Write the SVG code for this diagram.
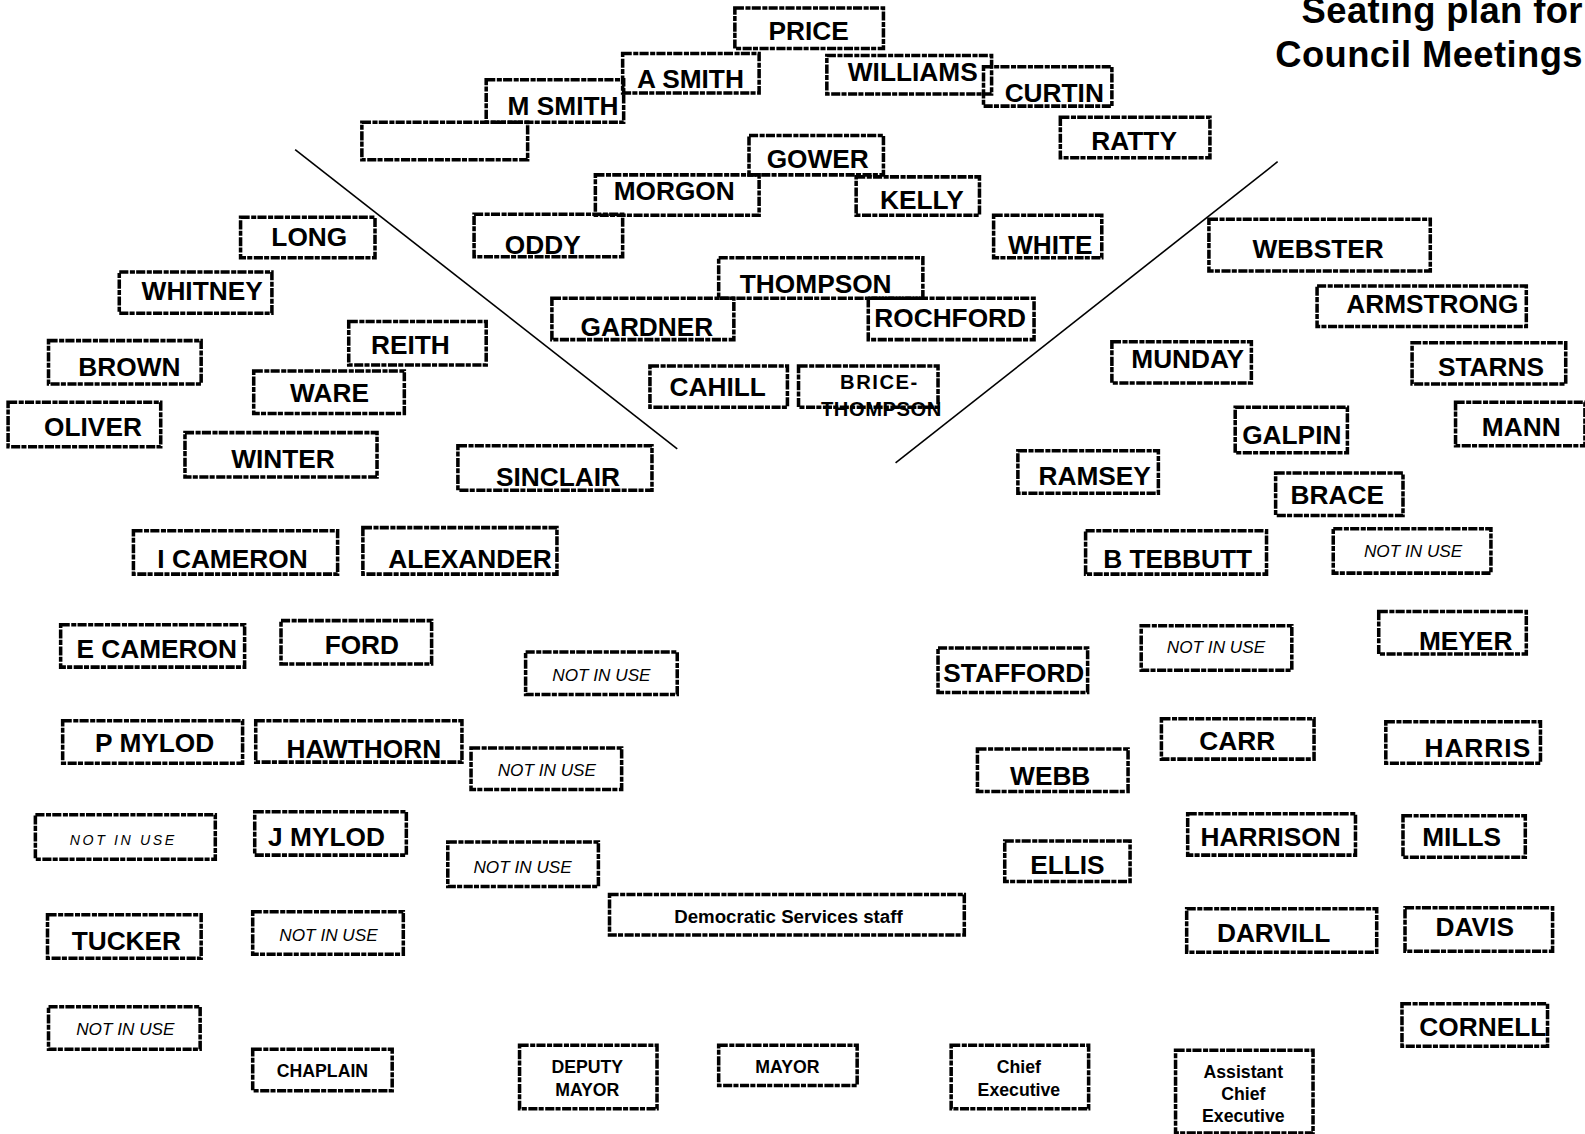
<svg xmlns="http://www.w3.org/2000/svg" width="1585" height="1134" viewBox="0 0 1585 1134">
<style>
.b{fill:none;stroke:#000;stroke-width:3.5;stroke-dasharray:9 1.5 5 1.2}
.n{font-family:"Liberation Sans",Arial,sans-serif;font-weight:bold;font-size:26px;text-anchor:middle;fill:#000}
.u{font-family:"Liberation Sans",Arial,sans-serif;font-style:italic;font-size:17px;text-anchor:middle;fill:#000}
.s{font-family:"Liberation Sans",Arial,sans-serif;font-weight:bold;font-size:17.5px;text-anchor:middle;fill:#000}
.t{font-family:"Liberation Sans",Arial,sans-serif;font-weight:bold;font-size:36px;letter-spacing:0.4px;text-anchor:end;fill:#000}
.l{stroke:#000;stroke-width:1.6;fill:none}
</style>
<rect width="1585" height="1134" fill="#fff"/>
<g transform="scale(1.0108)">
<g id="title"><text class="t" x="1566" y="23">Seating plan for</text><text class="t" x="1566" y="66">Council Meetings</text></g>
<g id="connectors"><line class="l" x1="292" y1="148" x2="670" y2="444"/><line class="l" x1="1264" y1="160" x2="886" y2="458"/></g>
<g id="price"><rect class="b" x="727" y="8" width="147" height="40"/><text class="n" x="800" y="40">PRICE</text></g>
<g id="asmith"><rect class="b" x="616" y="53" width="135" height="39"/><text class="n" x="683" y="87">A SMITH</text></g>
<g id="williams"><rect class="b" x="818" y="55" width="163" height="38"/><text class="n" x="903" y="80">WILLIAMS</text></g>
<g id="curtin"><rect class="b" x="973" y="66" width="127" height="39"/><text class="n" x="1043" y="101">CURTIN</text></g>
<g id="msmith"><rect class="b" x="481" y="79" width="136" height="42"/><text class="n" x="557" y="114">M SMITH</text></g>
<g id="blank"><rect class="b" x="358" y="121" width="164" height="37"/></g>
<g id="ratty"><rect class="b" x="1049" y="116" width="148" height="40"/><text class="n" x="1122" y="148">RATTY</text></g>
<g id="gower"><rect class="b" x="741" y="134" width="133" height="39"/><text class="n" x="809" y="166">GOWER</text></g>
<g id="morgon"><rect class="b" x="589" y="173" width="162" height="40"/><text class="n" x="667" y="198">MORGON</text></g>
<g id="kelly"><rect class="b" x="847" y="175" width="122" height="38"/><text class="n" x="912" y="207">KELLY</text></g>
<g id="oddy"><rect class="b" x="469" y="212" width="147" height="42"/><text class="n" x="537" y="251">ODDY</text></g>
<g id="white"><rect class="b" x="983" y="213" width="107" height="42"/><text class="n" x="1039" y="251">WHITE</text></g>
<g id="long"><rect class="b" x="238" y="215" width="133" height="40"/><text class="n" x="306" y="243">LONG</text></g>
<g id="whitney"><rect class="b" x="118" y="269" width="151" height="41"/><text class="n" x="200" y="297">WHITNEY</text></g>
<g id="thompson"><rect class="b" x="711" y="255" width="202" height="40"/><text class="n" x="807" y="290">THOMPSON</text></g>
<g id="webster"><rect class="b" x="1196" y="217" width="219" height="51"/><text class="n" x="1304" y="255">WEBSTER</text></g>
<g id="armstrong"><rect class="b" x="1303" y="283" width="207" height="40"/><text class="n" x="1417" y="310">ARMSTRONG</text></g>
<g id="gardner"><rect class="b" x="546" y="295" width="180" height="41"/><text class="n" x="640" y="332">GARDNER</text></g>
<g id="rochford"><rect class="b" x="859" y="295" width="164" height="41"/><text class="n" x="940" y="324">ROCHFORD</text></g>
<g id="reith"><rect class="b" x="345" y="318" width="136" height="43"/><text class="n" x="406" y="350">REITH</text></g>
<g id="brown"><rect class="b" x="48" y="337" width="151" height="43"/><text class="n" x="128" y="372">BROWN</text></g>
<g id="munday"><rect class="b" x="1100" y="338" width="138" height="41"/><text class="n" x="1175" y="364">MUNDAY</text></g>
<g id="starns"><rect class="b" x="1397" y="339" width="152" height="41"/><text class="n" x="1475" y="372">STARNS</text></g>
<g id="ware"><rect class="b" x="251" y="367" width="149" height="42"/><text class="n" x="326" y="398">WARE</text></g>
<g id="cahill"><rect class="b" x="643" y="362" width="136" height="41"/><text class="n" x="710" y="392">CAHILL</text></g>
<g id="brice"><rect class="b" x="790" y="362" width="138" height="41"/><text class="n" x="870" y="385" style="font-size:20px;letter-spacing:1.5px">BRICE-</text><text class="n" x="872" y="412" style="font-size:20px;letter-spacing:0.5px">THOMPSON</text></g>
<g id="oliver"><rect class="b" x="8" y="398" width="151" height="44"/><text class="n" x="92" y="431">OLIVER</text></g>
<g id="mann"><rect class="b" x="1440" y="398" width="128" height="43"/><text class="n" x="1505" y="431">MANN</text></g>
<g id="galpin"><rect class="b" x="1222" y="403" width="111" height="45"/><text class="n" x="1278" y="439">GALPIN</text></g>
<g id="winter"><rect class="b" x="183" y="428" width="190" height="44"/><text class="n" x="280" y="463">WINTER</text></g>
<g id="sinclair"><rect class="b" x="453" y="441" width="192" height="44"/><text class="n" x="552" y="481">SINCLAIR</text></g>
<g id="ramsey"><rect class="b" x="1007" y="446" width="139" height="42"/><text class="n" x="1083" y="480">RAMSEY</text></g>
<g id="brace"><rect class="b" x="1262" y="468" width="126" height="42"/><text class="n" x="1323" y="499">BRACE</text></g>
<g id="icameron"><rect class="b" x="132" y="525" width="202" height="43"/><text class="n" x="230" y="562">I CAMERON</text></g>
<g id="alexander"><rect class="b" x="359" y="522" width="192" height="46"/><text class="n" x="465" y="562">ALEXANDER</text></g>
<g id="btebbutt"><rect class="b" x="1074" y="525" width="179" height="43"/><text class="n" x="1165" y="562">B TEBBUTT</text></g>
<g id="niu1"><rect class="b" x="1319" y="523" width="156" height="44"/><text class="u" x="1398" y="551">NOT IN USE</text></g>
<g id="ecameron"><rect class="b" x="60" y="618" width="182" height="42"/><text class="n" x="155" y="651">E CAMERON</text></g>
<g id="ford"><rect class="b" x="278" y="614" width="149" height="43"/><text class="n" x="358" y="647">FORD</text></g>
<g id="niu2"><rect class="b" x="520" y="645" width="150" height="42"/><text class="u" x="595" y="674">NOT IN USE</text></g>
<g id="stafford"><rect class="b" x="928" y="641" width="148" height="44"/><text class="n" x="1003" y="675">STAFFORD</text></g>
<g id="niu3"><rect class="b" x="1129" y="619" width="149" height="44"/><text class="u" x="1203" y="646">NOT IN USE</text></g>
<g id="meyer"><rect class="b" x="1364" y="605" width="146" height="42"/><text class="n" x="1450" y="643">MEYER</text></g>
<g id="pmylod"><rect class="b" x="62" y="713" width="178" height="42"/><text class="n" x="153" y="744">P MYLOD</text></g>
<g id="hawthorn"><rect class="b" x="253" y="713" width="204" height="41"/><text class="n" x="360" y="750">HAWTHORN</text></g>
<g id="niu4"><rect class="b" x="466" y="740" width="149" height="41"/><text class="u" x="541" y="768">NOT IN USE</text></g>
<g id="webb"><rect class="b" x="967" y="741" width="149" height="42"/><text class="n" x="1039" y="777">WEBB</text></g>
<g id="carr"><rect class="b" x="1149" y="711" width="151" height="40"/><text class="n" x="1224" y="742">CARR</text></g>
<g id="harris"><rect class="b" x="1371" y="714" width="153" height="41"/><text class="n" x="1462" y="749" style="letter-spacing:1px">HARRIS</text></g>
<g id="niu5"><rect class="b" x="35" y="806" width="178" height="44"/><text class="u" x="122" y="836" style="font-size:14px;letter-spacing:2.6px">NOT IN USE</text></g>
<g id="jmylod"><rect class="b" x="252" y="803" width="150" height="43"/><text class="n" x="323" y="837">J MYLOD</text></g>
<g id="niu6"><rect class="b" x="443" y="833" width="149" height="44"/><text class="u" x="517" y="864">NOT IN USE</text></g>
<g id="ellis"><rect class="b" x="994" y="832" width="124" height="40"/><text class="n" x="1056" y="865">ELLIS</text></g>
<g id="harrison"><rect class="b" x="1175" y="805" width="166" height="41"/><text class="n" x="1257" y="837">HARRISON</text></g>
<g id="mills"><rect class="b" x="1388" y="807" width="121" height="41"/><text class="n" x="1446" y="837">MILLS</text></g>
<g id="dss"><rect class="b" x="603" y="885" width="351" height="40"/><text class="s" x="780" y="913" style="font-size:18.5px">Democratic Services staff</text></g>
<g id="tucker"><rect class="b" x="47" y="905" width="152" height="43"/><text class="n" x="125" y="940">TUCKER</text></g>
<g id="niu7"><rect class="b" x="250" y="902" width="149" height="42"/><text class="u" x="325" y="931">NOT IN USE</text></g>
<g id="darvill"><rect class="b" x="1174" y="899" width="188" height="43"/><text class="n" x="1260" y="932">DARVILL</text></g>
<g id="davis"><rect class="b" x="1390" y="898" width="146" height="43"/><text class="n" x="1459" y="926">DAVIS</text></g>
<g id="niu8"><rect class="b" x="48" y="996" width="150" height="42"/><text class="u" x="124" y="1024">NOT IN USE</text></g>
<g id="cornell"><rect class="b" x="1387" y="993" width="144" height="42"/><text class="n" x="1467" y="1025">CORNELL</text></g>
<g id="chaplain"><rect class="b" x="250" y="1038" width="138" height="41"/><text class="s" x="319" y="1065">CHAPLAIN</text></g>
<g id="deputymayor"><rect class="b" x="514" y="1034" width="136" height="63"/><text class="s" x="581" y="1062">DEPUTY</text><text class="s" x="581" y="1084">MAYOR</text></g>
<g id="mayor"><rect class="b" x="711" y="1034" width="137" height="40"/><text class="s" x="779" y="1062">MAYOR</text></g>
<g id="chiefexec"><rect class="b" x="941" y="1034" width="136" height="63"/><text class="s" x="1008" y="1062">Chief</text><text class="s" x="1008" y="1084">Executive</text></g>
<g id="asstchief"><rect class="b" x="1163" y="1039" width="136" height="82"/><text class="s" x="1230" y="1066">Assistant</text><text class="s" x="1230" y="1088">Chief</text><text class="s" x="1230" y="1110">Executive</text></g>
</g>
</svg>
